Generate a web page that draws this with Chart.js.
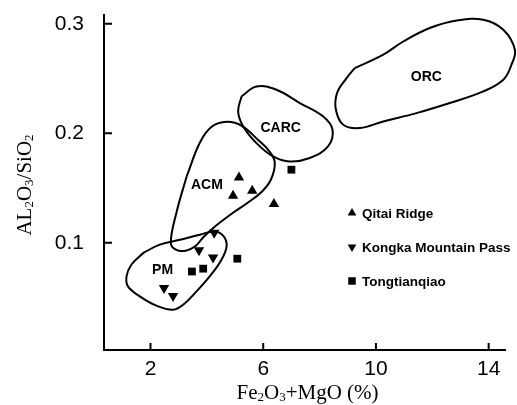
<!DOCTYPE html>
<html>
<head>
<meta charset="utf-8">
<script src="https://cdn.jsdelivr.net/npm/chart.js"></script>
<style>
  html, body { margin: 0; background: #fff; }
  #wrap { width: 517px; height: 405px; }
</style>
</head>
<body>
<div id="wrap"><canvas id="chart"></canvas></div>
<script>
// axis ticks
const xTicks = [2, 6, 10, 14];
const yTicks = [0.1, 0.2, 0.3];

// samples
const seriesNames = ['Qitai Ridge', 'Kongka Mountain Pass', 'Tongtianqiao'];
const qitaiX = [5.14, 4.93, 5.61, 6.38];
const qitaiY = [0.1595, 0.1428, 0.1474, 0.1353];
const kongkaX = [4.26, 3.72, 4.22, 2.48, 2.80];
const kongkaY = [0.1092, 0.0931, 0.0864, 0.0587, 0.0514];
const tongX = [7.00, 5.08, 3.47, 3.87];
const tongY = [0.1667, 0.0854, 0.0737, 0.0763];

// tectonic setting fields (outline points, x = Fe2O3+MgO, y = Al2O3/SiO2)
const fieldNames = ['ORC', 'CARC', 'ACM', 'PM'];
const orcField = [[9.25, 0.2595], [10.26, 0.2717], [10.97, 0.2838], [11.91, 0.2961], [12.86, 0.3030],
  [13.81, 0.3037], [14.52, 0.2945], [14.93, 0.2763], [14.81, 0.2626], [14.52, 0.2489], [13.81, 0.2382],
  [12.62, 0.2276], [11.44, 0.2184], [10.26, 0.2108], [9.43, 0.2048], [8.84, 0.2078], [8.58, 0.2215],
  [8.62, 0.2367], [8.96, 0.2504]];
const carcField = [[5.23, 0.2336], [5.76, 0.2427], [6.47, 0.2397], [7.30, 0.2276], [8.13, 0.2153],
  [8.46, 0.2032], [8.30, 0.1879], [7.65, 0.1774], [6.94, 0.1742], [6.35, 0.1788], [5.76, 0.1910],
  [5.29, 0.2062], [5.11, 0.2199]];
const acmField = [[3.28, 0.1603], [3.75, 0.1913], [4.17, 0.2059], [4.71, 0.2105], [5.24, 0.2068],
  [5.81, 0.1941], [6.23, 0.1831], [6.41, 0.1731], [6.27, 0.1575], [5.95, 0.1466], [5.45, 0.1365],
  [4.88, 0.1265], [4.32, 0.1155], [3.89, 0.1055], [3.61, 0.0973], [3.25, 0.0927], [2.90, 0.0936],
  [2.72, 0.1000], [2.92, 0.1274]];
const pmField = [[1.74, 0.0906], [2.33, 0.0982], [3.04, 0.1027], [3.75, 0.1073], [4.28, 0.1103],
  [4.60, 0.1058], [4.70, 0.0966], [4.52, 0.0845], [4.10, 0.0692], [3.63, 0.0555], [3.16, 0.0434],
  [2.80, 0.0388], [2.21, 0.0425], [1.62, 0.0510], [1.20, 0.0601], [1.15, 0.0692], [1.32, 0.0799]];
const fieldLabelX = [11.79, 6.62, 4.00, 2.43];
const fieldLabelY = [0.2516, 0.205, 0.153, 0.0753];

const SANS = '"Liberation Sans", Arial, sans-serif';
const SERIF = '"Liberation Serif", "Times New Roman", serif';

function toPoints(xs, ys) {
  return xs.map((x, i) => ({ x: x, y: ys[i] }));
}

// close the outline by repeating the first point
function outline(field) {
  const pts = field.map(p => ({ x: p[0], y: p[1] }));
  pts.push({ x: field[0][0], y: field[0][1] });
  return pts;
}

function fieldSet(field) {
  return {
    type: 'line',
    data: outline(field),
    borderColor: '#000',
    borderWidth: 2,
    pointRadius: 0,
    tension: 0.4,
    fill: false,
    clip: false
  };
}

function marker(ctx, style, x, y, r) {
  ctx.beginPath();
  if (style === 'up') {
    ctx.moveTo(x, y - r);
    ctx.lineTo(x + r * 0.87, y + r * 0.5);
    ctx.lineTo(x - r * 0.87, y + r * 0.5);
  } else if (style === 'down') {
    ctx.moveTo(x, y + r);
    ctx.lineTo(x + r * 0.87, y - r * 0.5);
    ctx.lineTo(x - r * 0.87, y - r * 0.5);
  } else {
    ctx.rect(x - r * 0.75, y - r * 0.75, r * 1.5, r * 1.5);
  }
  ctx.closePath();
  ctx.fill();
}

// text with subscripts: parts = [[text, isSub], ...]
function richText(ctx, parts, x, y, size) {
  const big = size + 'px ' + SERIF;
  const small = Math.round(size * 0.6) + 'px ' + SERIF;
  let w = 0;
  parts.forEach(p => { ctx.font = p[1] ? small : big; w += ctx.measureText(p[0]).width; });
  let cx = x - w / 2;
  parts.forEach(p => {
    ctx.font = p[1] ? small : big;
    ctx.fillText(p[0], cx, y + (p[1] ? 2 : 0));
    cx += ctx.measureText(p[0]).width;
  });
}

const decorations = {
  id: 'decorations',
  afterDraw(chart) {
    const { ctx, chartArea: a, scales: { x, y } } = chart;
    ctx.save();
    ctx.fillStyle = '#000';
    ctx.strokeStyle = '#000';
    ctx.lineWidth = 2;

    // inward tick marks
    ctx.beginPath();
    xTicks.forEach(v => {
      const px = x.getPixelForValue(v);
      ctx.moveTo(px, a.bottom);
      ctx.lineTo(px, a.bottom - 7);
    });
    yTicks.forEach(v => {
      const py = y.getPixelForValue(v);
      ctx.moveTo(a.left, py);
      ctx.lineTo(a.left + 8, py);
    });
    ctx.stroke();

    // field names
    ctx.font = 'bold 14px ' + SANS;
    ctx.textAlign = 'center';
    ctx.textBaseline = 'middle';
    fieldNames.forEach((n, i) => {
      ctx.fillText(n, x.getPixelForValue(fieldLabelX[i]), y.getPixelForValue(fieldLabelY[i]));
    });

    // legend
    const styles = ['up', 'down', 'square'];
    const rows = [213, 247, 281];
    ctx.textAlign = 'left';
    ctx.font = 'bold 13.5px ' + SANS;
    seriesNames.forEach((n, i) => {
      marker(ctx, styles[i], 352, rows[i], 5);
      ctx.fillText(n, 362, rows[i] + 1);
    });

    // axis titles
    ctx.textAlign = 'left';
    ctx.textBaseline = 'alphabetic';
    richText(ctx, [['Fe', 0], ['2', 1], ['O', 0], ['3', 1], ['+MgO (%)', 0]], (a.left + a.right) / 2 + 3, 399, 21);
    ctx.translate(31, 185);
    ctx.rotate(-Math.PI / 2);
    richText(ctx, [['AL', 0], ['2', 1], ['O', 0], ['3', 1], ['/SiO', 0], ['2', 1]], 0, 0, 21);
    ctx.restore();
  }
};

const ctx = document.getElementById('chart').getContext('2d');
new Chart(ctx, {
  type: 'scatter',
  data: {
    datasets: [
      { label: seriesNames[0], data: toPoints(qitaiX, qitaiY), pointStyle: 'triangle', pointRadius: 6, backgroundColor: '#000', borderColor: '#000', borderWidth: 0 },
      { label: seriesNames[1], data: toPoints(kongkaX, kongkaY), pointStyle: 'triangle', rotation: 180, pointRadius: 6, backgroundColor: '#000', borderColor: '#000', borderWidth: 0 },
      { label: seriesNames[2], data: toPoints(tongX, tongY), pointStyle: 'rect', pointRadius: 5.5, backgroundColor: '#000', borderColor: '#000', borderWidth: 0 },
      fieldSet(orcField),
      fieldSet(carcField),
      fieldSet(acmField),
      fieldSet(pmField)
    ]
  },
  options: {
    responsive: true,
    maintainAspectRatio: false,
    animation: false,
    layout: { padding: { top: 15, right: 12, left: 0, bottom: 0 } },
    elements: { line: { capBezierPoints: false } },
    plugins: { legend: { display: false }, tooltip: { enabled: false } },
    scales: {
      x: {
        type: 'linear',
        min: 0.35,
        max: 14.58,
        afterFit: s => { s.height = 55; s.paddingLeft = 0; s.paddingRight = 0; },
        afterBuildTicks: s => { s.ticks = xTicks.map(v => ({ value: v })); },
        grid: { display: false, drawTicks: false },
        border: { display: true, color: '#000', width: 2 },
        ticks: { color: '#000', padding: 7, maxRotation: 0, font: { family: SANS, size: 21 } }
      },
      y: {
        type: 'linear',
        min: 0.002,
        max: 0.308,
        afterFit: s => { s.width = 104; s.paddingTop = 0; s.paddingBottom = 0; },
        afterBuildTicks: s => { s.ticks = yTicks.map(v => ({ value: v })); },
        grid: { display: false, drawTicks: false },
        border: { display: true, color: '#000', width: 2 },
        ticks: { color: '#000', padding: 20, font: { family: SANS, size: 21 }, callback: v => v.toFixed(1) }
      }
    }
  },
  plugins: [decorations]
});
</script>
</body>
</html>
